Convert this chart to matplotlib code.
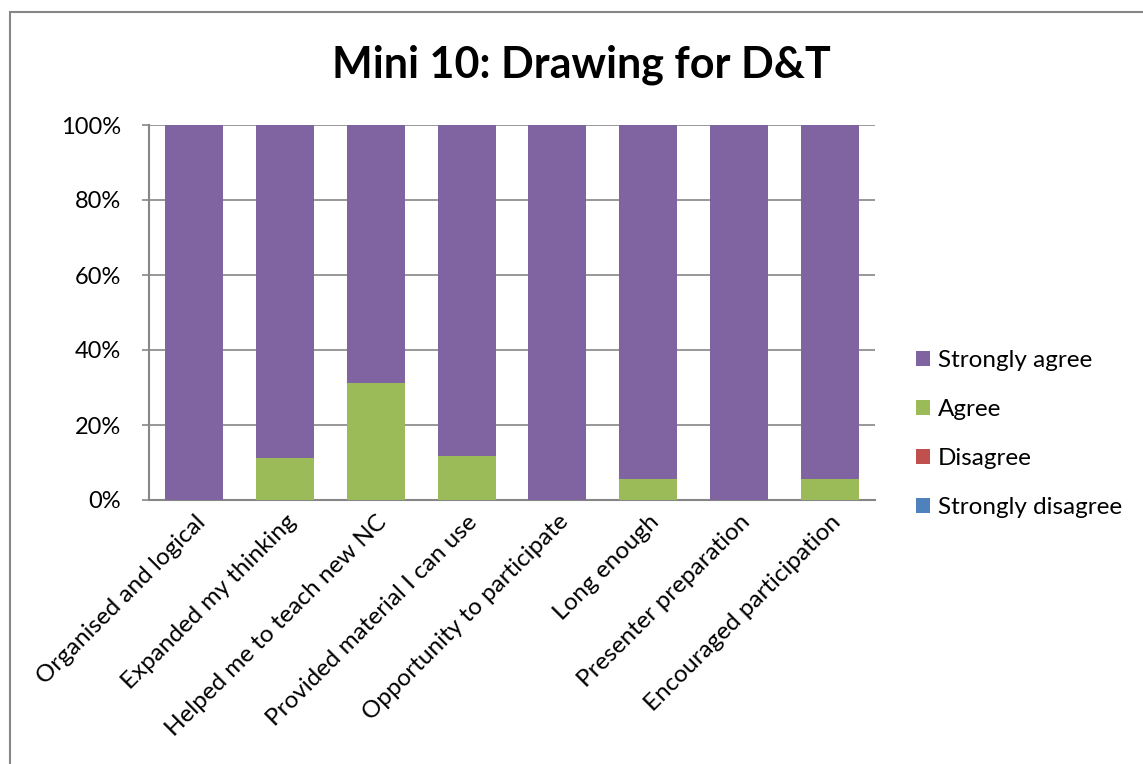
import matplotlib
matplotlib.use("Agg")
import matplotlib.pyplot as plt
from matplotlib.patches import Rectangle
import numpy as np

categories = ["Organised and logical", "Expanded my thinking", "Helped me to teach new NC",
              "Provided material I can use", "Opportunity to participate", "Long enough",
              "Presenter preparation", "Encouraged participation"]
strongly_disagree = [0, 0, 0, 0, 0, 0, 0, 0]
disagree = [0, 0, 0, 0, 0, 0, 0, 0]
agree = [0, 11.1, 31.25, 11.8, 0, 5.6, 0, 5.6]
strongly_agree = [100, 88.9, 68.75, 88.2, 100, 94.4, 100, 94.4]
series_names = ["Strongly disagree", "Disagree", "Agree", "Strongly agree"]
colors = ["#4F81BD", "#C0504D", "#9BBB59", "#8064A2"]
title = "Mini 10: Drawing for D&T"

plt.rcParams['font.family'] = ['Lato', 'DejaVu Sans']

fig = plt.figure(figsize=(11.43, 7.64), dpi=100)
W, H = 1143, 764
ax = fig.add_axes([149 / W, 1 - 500 / H, (875 - 149) / W, (500 - 125) / H])

x = np.arange(len(categories))
bottom = np.zeros(len(categories))
handles = []
for name, vals, c in zip(series_names, [strongly_disagree, disagree, agree, strongly_agree], colors):
    vals = np.array(vals, dtype=float)
    b = ax.bar(x, vals, bottom=bottom, width=0.64, color=c, edgecolor="none", zorder=3, label=name)
    handles.append(b)
    bottom += vals

ax.set_xlim(-0.5, len(categories) - 0.5)
ax.set_ylim(0, 100)
ax.set_yticks([0, 20, 40, 60, 80, 100])
ax.set_yticklabels(["0%", "20%", "40%", "60%", "80%", "100%"], fontsize=17)
ax.yaxis.grid(True, color="#868686", linewidth=1.2, zorder=0)
ax.set_xticks(x)
ax.set_xticklabels(categories, rotation=45, ha="right", rotation_mode="anchor", fontsize=17.5)
ax.tick_params(axis="x", length=0, pad=8)
ax.tick_params(axis="y", length=5, color="#868686", width=1.2, pad=15)
for s in ["top", "right"]:
    ax.spines[s].set_visible(False)
for s in ["left", "bottom"]:
    ax.spines[s].set_color("#868686")
    ax.spines[s].set_linewidth(1.5)

leg = fig.legend(handles[::-1], series_names[::-1], loc="center left",
                 bbox_to_anchor=(894 / W, 1 - 434 / H), frameon=False, fontsize=17.5,
                 handlelength=0.6, handleheight=0.6, handletextpad=0.3, labelspacing=1.15)

fig.text(581 / W, 1 - 65 / H, title, ha="center", va="center", fontsize=31, fontweight="bold")

fig.patches.append(Rectangle((10 / W, -0.1), 1.2, 1 - 12 / H + 0.1, transform=fig.transFigure,
                             fill=False, edgecolor="#868686", linewidth=1.5))

fig.savefig("out.png", dpi=100)
